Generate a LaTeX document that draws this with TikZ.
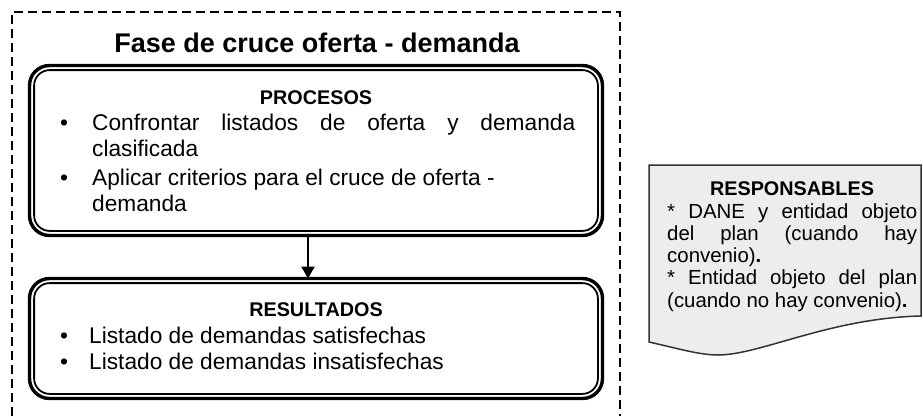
\documentclass[tikz,border=0pt]{standalone}
\usepackage{fontspec}
\setmainfont{Liberation Sans}
\usetikzlibrary{arrows.meta}
\definecolor{docfill}{HTML}{EDEDED}
\definecolor{docline}{HTML}{333333}
\begin{document}
\begin{tikzpicture}[x=1pt,y=-1pt,
  dashedframe/.style={draw=black, line width=2.4pt, dash pattern=on 9pt off 5pt},
  dblbox/.style={draw=black, line width=3.4pt, rounded corners=20pt, outer sep=0pt, inner sep=0pt},
  innerline/.style={draw=black, line width=1.8pt, rounded corners=15.5pt},
  flowarrow/.style={draw=black, line width=2.2pt, -{Triangle[width=13pt,length=12pt]}},
  titletext/.style={font=\bfseries\fontsize{27}{32}\selectfont, anchor=base, inner sep=0pt},
  headtext/.style={font=\bfseries\fontsize{19.8}{23}\selectfont, anchor=base, inner sep=0pt},
  bodytext/.style={font=\fontsize{22.7}{26}\selectfont, anchor=base west, inner sep=0pt},
  bullettext/.style={font=\fontsize{22.7}{26}\selectfont, anchor=base, inner sep=0pt},
  resptext/.style={font=\fontsize{20.4}{22.5}\selectfont, anchor=base west, inner sep=0pt},
  docshape/.style={draw=docline, fill=docfill, line width=1.5pt},
]
\useasboundingbox (0,0) rectangle (923,416);

% dashed outer frame (open at the bottom, runs off the picture)
\draw[dashedframe] (12,416) -- (12,12) -- (620,12) -- (620,416);

% title
\node[titletext] (title) at (317,52) {Fase de cruce oferta - demanda};

% PROCESOS box
\node[dblbox, minimum width=573pt, minimum height=170pt] (proc) at (316,150.5) {};
\draw[innerline] ([xshift=4.6pt,yshift=-4.6pt]proc.north west) rectangle ([xshift=-4.6pt,yshift=4.6pt]proc.south east);

% RESULTADOS box
\node[dblbox, minimum width=573pt, minimum height=120pt] (res) at (316,338.5) {};
\draw[innerline] ([xshift=4.6pt,yshift=-4.6pt]res.north west) rectangle ([xshift=-4.6pt,yshift=4.6pt]res.south east);

% arrow
\draw[flowarrow] ([xshift=-8pt]proc.south) -- ([xshift=-8pt]res.north);

% PROCESOS text
\node[headtext] (prochead) at (316,104) {PROCESOS};
\node[bullettext] (pb1) at (64,130) {\textbullet};
\node[bodytext] (pi1) at (92,130) {\parbox[t]{483pt}{\setlength{\baselineskip}{26pt}%
  \makebox[483pt][s]{Confrontar listados de oferta y demanda}\\
  clasificada}};
\node[bullettext] (pb2) at (64,185) {\textbullet};
\node[bodytext] (pi2) at (92,185) {\parbox[t]{483pt}{\setlength{\baselineskip}{26pt}%
  Aplicar criterios para el cruce de oferta -\\
  demanda}};

% RESULTADOS text
\node[headtext] (reshead) at (316,316) {RESULTADOS};
\node[bullettext] (rb1) at (64,343) {\textbullet};
\node[bodytext] (ri1) at (89,343) {Listado de demandas satisfechas};
\node[bullettext] (rb2) at (64,369) {\textbullet};
\node[bodytext] (ri2) at (89,369) {Listado de demandas insatisfechas};

% RESPONSABLES document shape
\draw[docshape] (649,165) -- (921,165) -- (921,316)
  .. controls (830,318) and (760,355) .. (718,355)
  .. controls (700,355) and (680,349) .. (649,342) -- cycle;
\node[headtext] (resphead) at (792,195) {RESPONSABLES};
\node[resptext] (resp) at (667,218) {\parbox[t]{250pt}{\setlength{\baselineskip}{22.3pt}%
  \makebox[250pt][s]{* DANE y entidad objeto}\\
  \makebox[250pt][s]{del plan (cuando hay}\\
  convenio)\textbf{.}\\
  \makebox[250pt][s]{* Entidad objeto del plan}\\
  (cuando no hay convenio)\textbf{.}}};
\end{tikzpicture}
\end{document}
